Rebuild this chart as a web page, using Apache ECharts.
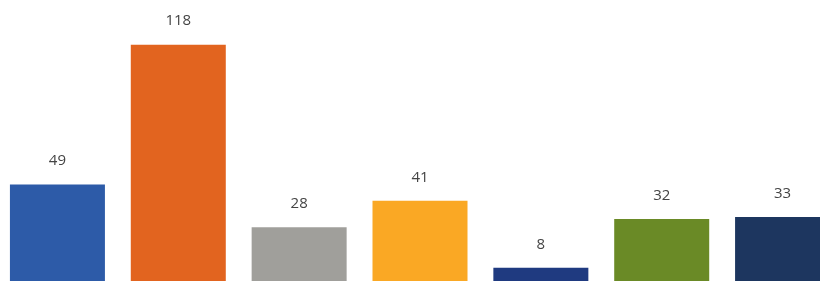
<!DOCTYPE html>
<html style="height: 100%">
<head>
    <meta charset="utf-8">
    <script type="text/javascript" src="https://cdn.jsdelivr.net/npm/echarts@6/dist/echarts.min.js"></script>
</head>
<body style="height: 100%; margin: 0; background: #ffffff">
<div id="container" style="height: 281px; width: 820px"></div>
<script type="text/javascript">
    var categories = ['A', 'B', 'C', 'D', 'E', 'F', 'G'];
    var values = [49, 118, 28, 41, 8, 32, 33];
    var colors = ['#2d5ba8', '#e2641f', '#a09f9b', '#faa824', '#1f3a80', '#6a8a26', '#1d365f'];

    var dom = document.getElementById("container");
    var myChart = echarts.init(dom);
    var option = {
        animation: false,
        grid: {
            left: -3,
            top: 0,
            bottom: -3,
            width: 846,
            outerBoundsMode: 'none'
        },
        xAxis: {
            type: 'category',
            data: categories,
            show: false
        },
        yAxis: {
            type: 'value',
            min: 0,
            max: 140,
            show: false
        },
        series: [
            {
                type: 'bar',
                barWidth: 95,
                data: values.map(function (v, i) {
                    return {
                        value: v,
                        itemStyle: { color: colors[i] }
                    };
                }),
                label: {
                    show: true,
                    position: 'top',
                    distance: 16,
                    fontSize: 15,
                    fontFamily: 'Open Sans',
                    color: '#444444'
                }
            }
        ]
    };
    myChart.setOption(option, true);
</script>
</body>
</html>
